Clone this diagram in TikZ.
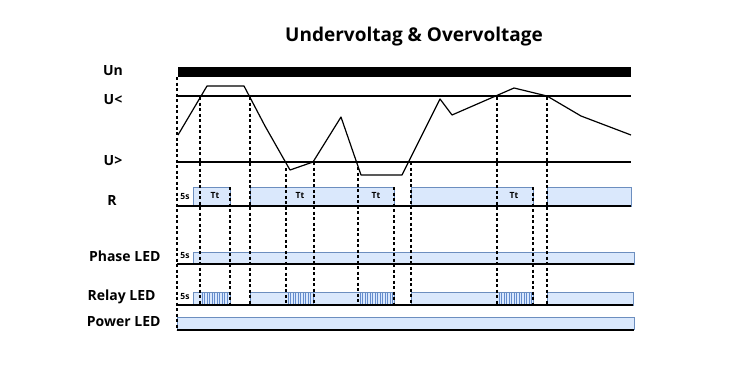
\documentclass[tikz,border=0pt]{standalone}
\usepackage{fontspec}
\setmainfont{Open Sans}
\definecolor{ledfill}{RGB}{218,232,252}
\definecolor{ledline}{RGB}{108,142,191}
\definecolor{blinkc}{RGB}{100,140,205}
\tikzset{
  lbl/.style={font=\bfseries\fontsize{14}{16}\selectfont},
  small/.style={font=\bfseries\fontsize{8.5}{10}\selectfont},
  ledbox/.style={fill=ledfill, draw=ledline, line width=0.9pt},
  guide/.style={dash pattern=on 3pt off 2.5pt, line width=1.1pt},
  base/.style={line width=1.1pt},
}
\begin{document}
\begin{tikzpicture}[x=1pt, y=-1pt]
    \useasboundingbox (0,0) rectangle (750,373);

    % Title
    \node[font=\bfseries\fontsize{19}{22}\selectfont] (title) at (414,37) {Undervoltag \& Overvoltage};

    % Row labels
    \node[lbl] (un) at (113,71) {Un};
    \node[lbl] (ulow) at (113,100) {U<};
    \node[lbl] (uhigh) at (113,161) {U>};
    \node[lbl] (r) at (112,200) {R};
    \node[lbl, anchor=east] (phase) at (164,256) {Phase LED};
    \node[lbl, anchor=east] (relay) at (159,297) {Relay LED};
    \node[lbl, anchor=east] (power) at (164,322) {Power LED};

    % Supply bar and threshold lines
    \fill (178,67) rectangle (631,77);
    \draw[base] (178,96) -- (631,96);
    \draw[base] (178,162) -- (631,162);

    % Voltage curve
    \draw[line width=1.2pt, line join=round]
        (178,135) -- (207,86) -- (244,86) -- (265,126) -- (290,170) -- (313,162)
        -- (341,117) -- (361,175) -- (402,175) -- (440,99) -- (452,115)
        -- (514,88) -- (547,96) -- (581,116) -- (631,135);

    % R relay output
    \draw[ledbox] (193,187) rectangle (230,206);
    \draw[ledbox] (250,187) rectangle (394,206);
    \draw[ledbox] (411,187) rectangle (533,206);
    \draw[ledbox] (547,187) rectangle (631,206);
    \draw[base] (177,206) -- (631,206);
    \node[small] (r5s) at (185,197) {5s};
    \node[small] (rt1) at (215,196) {Tt};
    \node[small] (rt2) at (300,196) {Tt};
    \node[small] (rt3) at (376,196) {Tt};
    \node[small] (rt4) at (514,196) {Tt};

    % Phase LED
    \draw[ledbox] (193,252) rectangle (634,264);
    \draw[base] (177,264) -- (634,264);
    \node[small] (p5s) at (185,256) {5s};

    % Relay LED
    \draw[ledbox] (193,292) rectangle (230,305);
    \draw[ledbox] (250,292) rectangle (394,305);
    \draw[ledbox] (411,292) rectangle (533,305);
    \draw[ledbox] (547,292) rectangle (633,305);
    \foreach \xx in {202,204.5,...,229} \draw[blinkc, line width=0.9pt] (\xx,293) -- (\xx,304);
    \foreach \xx in {288,290.5,...,313} \draw[blinkc, line width=0.9pt] (\xx,293) -- (\xx,304);
    \foreach \xx in {360,362.5,...,393} \draw[blinkc, line width=0.9pt] (\xx,293) -- (\xx,304);
    \foreach \xx in {499,501.5,...,532} \draw[blinkc, line width=0.9pt] (\xx,293) -- (\xx,304);
    \draw[base] (177,305) -- (633,305);
    \node[small] (l5s) at (185,297) {5s};

    % Power LED
    \draw[ledbox] (177,317) rectangle (634,329);
    \draw[base] (177,330) -- (634,330);

    % Dashed time markers
    \draw[guide] (177,77) -- (177,330);
    \foreach \x/\y in {200/97, 230/187, 250/97, 286/168, 314/162, 358/167,
                       394/187, 411/162, 497/97, 533/187, 547/97}
        \draw[guide] (\x,\y) -- (\x,305);
\end{tikzpicture}
\end{document}
